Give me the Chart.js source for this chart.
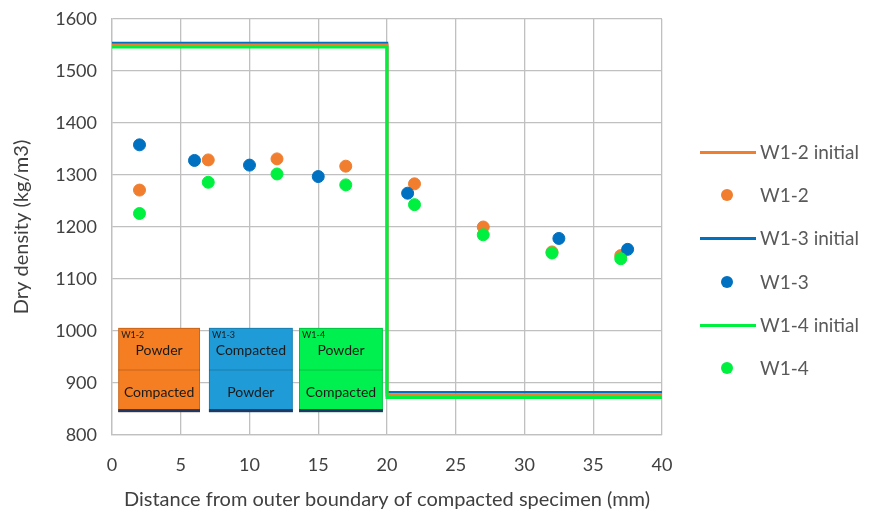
<!DOCTYPE html>
<html>
<head>
<meta charset="utf-8">
<script src="https://cdn.jsdelivr.net/npm/chart.js@4/dist/chart.umd.min.js"></script>
<style>
  html, body { margin: 0; padding: 0; background: #fff; }
  #wrap { position: relative; width: 869px; height: 519px; }
  #legend { position: absolute; left: 700px; top: 130px; font-family: Lato, "Open Sans", sans-serif; font-size: 19px; color: #595959; }
  .item { position: absolute; left: 0; height: 20px; white-space: nowrap; }
  .sym { position: absolute; left: 0; width: 62px; height: 20px; }
  .txt { position: absolute; left: 60px; top: -2px; }
</style>
</head>
<body>
<div id="wrap">
  <canvas id="c" width="869" height="519"></canvas>
  <div id="legend"></div>
</div>
<script>
// Distances (mm) and measured dry densities (kg/m3)
const w12X = [2, 7, 12, 17, 22, 27, 32, 37];
const w12Y = [1271, 1329, 1331, 1317, 1283, 1200, 1152, 1145];
const w13X = [2, 6, 10, 15, 21.5, 32.5, 37.5];
const w13Y = [1358, 1328, 1319, 1297, 1265, 1178, 1157];
const w14X = [2, 7, 12, 17, 22, 27, 32, 37];
const w14Y = [1226, 1286, 1302, 1281, 1243, 1185, 1150, 1139];

// Initial density profiles: step at the powder/compacted interface
const stepX = [0, 20, 20, 40];
const w12Init = [1550, 1550, 877, 877];
const w13Init = [1554, 1554, 882, 882];
const w14Init = [1546, 1546, 872, 872];

const xTicks = [0, 5, 10, 15, 20, 25, 30, 35, 40];
const yTicks = [800, 900, 1000, 1100, 1200, 1300, 1400, 1500, 1600];

// Specimen layout sketches: [label, top text, bottom text, colour]
const specimens = [
  ['W1-2', 'Powder', 'Compacted', '#F57D22'],
  ['W1-3', 'Compacted', 'Powder', '#1F9BD7'],
  ['W1-4', 'Powder', 'Compacted', '#00F050']
];

const ORANGE = '#F07E2E', BLUE = '#0070C0', GREEN = '#00F040';
const pts = (xs, ys) => xs.map((x, i) => ({x, y: ys[i]}));

const datasets = [
  {label: 'W1-2 initial', data: pts(stepX, w12Init), showLine: true, borderColor: ORANGE, borderWidth: 3, pointRadius: 0, kind: 'line'},
  {label: 'W1-2', data: pts(w12X, w12Y), backgroundColor: ORANGE, borderColor: ORANGE, pointRadius: 6, kind: 'dot'},
  {label: 'W1-3 initial', data: pts(stepX, w13Init), showLine: true, borderColor: BLUE, borderWidth: 2.5, pointRadius: 0, kind: 'line'},
  {label: 'W1-3', data: pts(w13X, w13Y), backgroundColor: BLUE, borderColor: BLUE, pointRadius: 6, kind: 'dot'},
  {label: 'W1-4 initial', data: pts(stepX, w14Init), showLine: true, borderColor: GREEN, borderWidth: 3, pointRadius: 0, kind: 'line'},
  {label: 'W1-4', data: pts(w14X, w14Y), backgroundColor: GREEN, borderColor: GREEN, pointRadius: 6, kind: 'dot'}
];
// draw order: initial lines underneath, green step on top of the other steps
datasets[0].order = 5; datasets[2].order = 6; datasets[4].order = 4;
datasets[1].order = 2; datasets[3].order = 1; datasets[5].order = 0;

const FONT = 'Lato, "Open Sans", sans-serif';

// Small sketches of each specimen (powder / compacted halves)
const sketchPlugin = {
  id: 'sketches',
  beforeDatasetsDraw(chart) {
    const {ctx} = chart;
    const xs = chart.scales.x, ys = chart.scales.y;
    const top = ys.getPixelForValue(1006), mid = ys.getPixelForValue(925), bot = ys.getPixelForValue(844);
    const spans = [[0.45, 6.4], [7.05, 13.15], [13.6, 19.7]];
    specimens.forEach((s, i) => {
      const l = xs.getPixelForValue(spans[i][0]), r = xs.getPixelForValue(spans[i][1]);
      ctx.save();
      ctx.fillStyle = s[3];
      ctx.fillRect(l, top, r - l, bot - top);
      ctx.strokeStyle = 'rgba(0,0,0,0.18)';
      ctx.lineWidth = 1;
      ctx.beginPath(); ctx.moveTo(l, mid); ctx.lineTo(r, mid); ctx.stroke();
      ctx.strokeRect(l + 0.5, top + 0.5, r - l - 1, bot - top - 1);
      ctx.fillStyle = '#1F3864';
      ctx.fillRect(l, bot - 3, r - l, 3);
      ctx.fillStyle = '#1a1a1a';
      ctx.font = '9px ' + FONT;
      ctx.textAlign = 'left'; ctx.textBaseline = 'top';
      ctx.fillText(s[0], l + 3, top + 3);
      ctx.font = '14px ' + FONT;
      ctx.textAlign = 'center'; ctx.textBaseline = 'middle';
      const cx = (l + r) / 2;
      ctx.fillText(s[1], cx, (top + mid) / 2 + 2);
      ctx.fillText(s[2], cx, (mid + bot) / 2 + 1);
      ctx.restore();
    });
  }
};

new Chart(document.getElementById('c'), {
  type: 'scatter',
  data: {datasets},
  plugins: [sketchPlugin],
  options: {
    responsive: false,
    animation: false,
    layout: {padding: {left: 6, right: 207, top: 19, bottom: 0}},
    plugins: {legend: {display: false}, tooltip: {enabled: false}},
    scales: {
      x: {
        type: 'linear', min: 0, max: 40,
        afterBuildTicks: a => { a.ticks = xTicks.map(v => ({value: v})); },
        afterFit: s => { s.height = 84; s.paddingLeft = 0; s.paddingRight = 0; },
        grid: {color: '#c0c0c0', lineWidth: 1.3, drawTicks: false},
        border: {color: '#c0c0c0', width: 1.3},
        ticks: {color: '#404040', font: {family: FONT, size: 18}, padding: 19, callback: v => String(v)},
        title: {display: true, text: 'Distance from outer boundary of compacted specimen (mm)', color: '#404040', font: {family: FONT, size: 20}, padding: {top: 3, bottom: 7}}
      },
      y: {
        type: 'linear', min: 800, max: 1600,
        afterBuildTicks: a => { a.ticks = yTicks.map(v => ({value: v})); },
        afterFit: s => { s.width = 106; s.paddingTop = 0; s.paddingBottom = 0; },
        grid: {color: '#c0c0c0', lineWidth: 1.3, drawTicks: false},
        border: {color: '#c0c0c0', width: 1.3},
        ticks: {color: '#404040', font: {family: FONT, size: 18}, padding: 15, callback: v => String(v)},
        title: {display: true, text: 'Dry density (kg/m3)', color: '#404040', font: {family: FONT, size: 20}, padding: {top: 4, bottom: 4}}
      }
    }
  }
});

// Legend beside the plot, built from the datasets
const leg = document.getElementById('legend');
datasets.forEach((d, i) => {
  const item = document.createElement('div');
  item.className = 'item';
  item.style.top = (i * 43.2 + 12) + 'px';
  const sym = document.createElement('div');
  sym.className = 'sym';
  if (d.kind === 'line') {
    sym.innerHTML = '<div style="position:absolute;left:0;top:9px;width:56px;height:' + (d.borderWidth) + 'px;background:' + d.borderColor + '"></div>';
  } else {
    sym.innerHTML = '<div style="position:absolute;left:21px;top:4px;width:12px;height:12px;border-radius:50%;background:' + d.backgroundColor + '"></div>';
  }
  const txt = document.createElement('div');
  txt.className = 'txt';
  txt.textContent = d.label;
  item.appendChild(sym); item.appendChild(txt);
  leg.appendChild(item);
});
</script>
</body>
</html>
